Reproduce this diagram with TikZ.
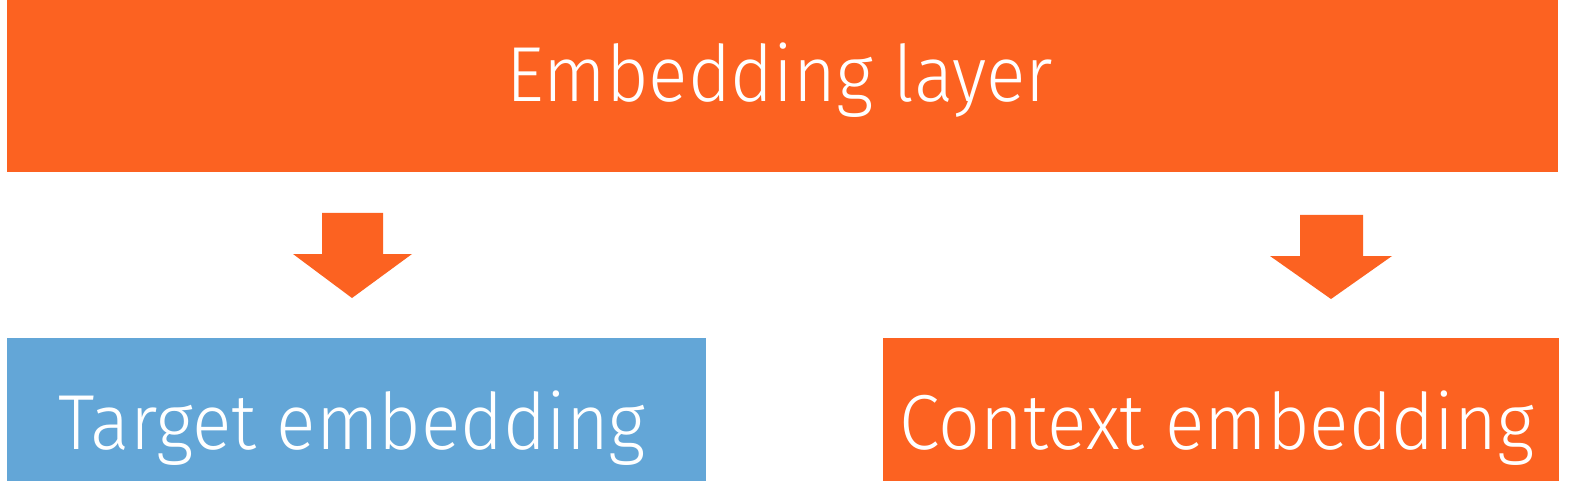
\documentclass[tikz,border=0pt]{standalone}
\usepackage{fontspec}
\setmainfont{Fira Sans Light}
\usepackage{graphicx}
\definecolor{ingorange}{HTML}{FC6221}
\definecolor{ingblue}{HTML}{63A6D7}
\newcommand{\lbltext}[1]{\scalebox{0.94}[1]{#1}}
\tikzset{
  lbl/.style={text=white, inner sep=0pt, anchor=base, font=\fontsize{78}{82}\selectfont},
  blockarrow/.style={fill=ingorange, draw=none},
}
\begin{document}
\begin{tikzpicture}[x=1pt,y=-1pt]
\useasboundingbox (0,0) rectangle (1574,481);
\fill[white] (0,0) rectangle (1574,481);
% boxes
\fill[ingorange] (7,0) rectangle (1558,172);
\fill[ingblue] (7,338) rectangle (706,481);
\fill[ingorange] (883,338) rectangle (1559,481);
% labels
\node[lbl] (toplbl) at (780,102) {\lbltext{Embedding layer}};
\node[lbl] (tgtlbl) at (352,449) {\lbltext{Target embedding}};
\node[lbl] (ctxlbl) at (1217,449) {\lbltext{Context embedding}};
% block arrows
\fill[blockarrow] (322,213) -- (383,213) -- (383,254) -- (412,254) -- (352,298) -- (293,254) -- (322,254) -- cycle;
\fill[blockarrow] (1300,215) -- (1363,215) -- (1363,256) -- (1392,256) -- (1331,299) -- (1270,256) -- (1300,256) -- cycle;
\end{tikzpicture}
\end{document}
